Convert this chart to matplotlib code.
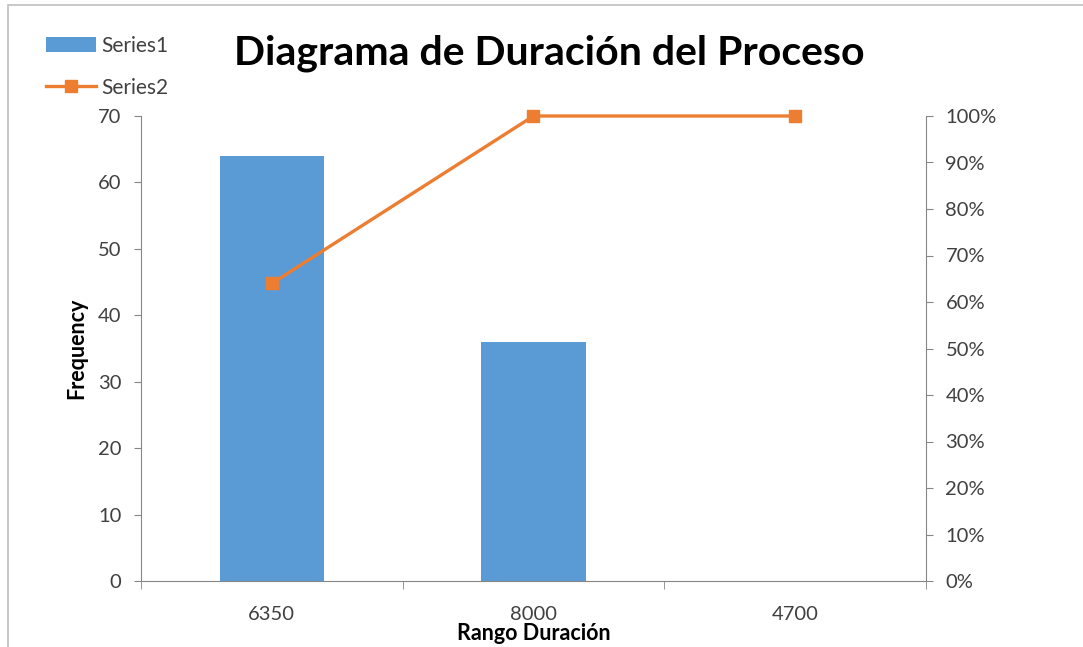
import matplotlib
matplotlib.use("Agg")
import matplotlib.pyplot as plt
from matplotlib.lines import Line2D
from matplotlib.patches import Patch, Rectangle
from matplotlib.ticker import FuncFormatter

categories = ["6350", "8000", "4700"]
frequency = [64, 36, 0]
cumulative_pct = [64, 100, 100]

bar_color = "#5b9bd5"
line_color = "#ed7d31"
axis_gray = "#868686"
text_color = "#404040"

plt.rcParams["font.family"] = ["Lato", "DejaVu Sans"]

W, H = 1083, 647
fig = plt.figure(figsize=(W / 100, H / 100), dpi=100)

# outer chart frame
fig.patches.append(Rectangle((8 / W, -0.01), 1.0, (H - 5) / H + 0.01,
                             transform=fig.transFigure, fill=False,
                             edgecolor="#bfbfbf", linewidth=1.2))

ax = fig.add_axes([141 / W, 1 - 581 / H, (926 - 141) / W, (581 - 116) / H])
x = list(range(len(categories)))
ax.bar(x, frequency, width=0.4, color=bar_color, zorder=2)
ax.set_xlim(-0.5, len(categories) - 0.5)
ax.set_ylim(0, 70)
ax.set_yticks(range(0, 71, 10))
ax.set_xticks(x)
ax.set_xticklabels(categories)
ax.set_xticks([i - 0.5 for i in range(len(categories) + 1)], minor=True)
ax.tick_params(axis="x", which="major", length=0, pad=18, labelsize=14.5, labelcolor=text_color)
ax.tick_params(axis="x", which="minor", length=6, color=axis_gray, direction="out")
ax.tick_params(axis="y", length=5, color=axis_gray, labelsize=14.5, labelcolor=text_color, pad=9)
for side in ["top", "right"]:
    ax.spines[side].set_visible(False)
ax.spines["left"].set_color(axis_gray)
ax.spines["bottom"].set_color(axis_gray)
ax.set_ylabel("Frequency", fontsize=15.5, fontweight="bold", color="black", labelpad=8)
ax.set_xlabel("Rango Duración", fontsize=15.5, fontweight="bold", color="black", labelpad=0)

ax2 = ax.twinx()
ax2.plot(x, cumulative_pct, color=line_color, linewidth=2.4, marker="s",
         markersize=8, zorder=3, clip_on=False)
ax2.set_ylim(0, 100)
ax2.set_yticks(range(0, 101, 10))
ax2.yaxis.set_major_formatter(FuncFormatter(lambda v, p: f"{int(v)}%"))
ax2.tick_params(axis="y", length=5, color=axis_gray, labelsize=14.5, labelcolor=text_color, pad=9)
for side in ["top", "left", "bottom"]:
    ax2.spines[side].set_visible(False)
ax2.spines["right"].set_color(axis_gray)

fig.text(549 / W, 1 - 53 / H, "Diagrama de Duración del Proceso",
         ha="center", va="center", fontsize=29.5, fontweight="bold", color="black")

handles = [Patch(facecolor=bar_color, edgecolor="none"),
           Line2D([0], [0], color=line_color, linewidth=2.4, marker="s", markersize=8)]
fig.legend(handles, ["Series1", "Series2"], loc="upper left",
           bbox_to_anchor=(27 / W, 1 - 17 / H), frameon=False,
           fontsize=15, labelcolor=text_color, handlelength=2.4,
           handletextpad=0.25, labelspacing=1.05)

fig.savefig("out.png", dpi=100)
